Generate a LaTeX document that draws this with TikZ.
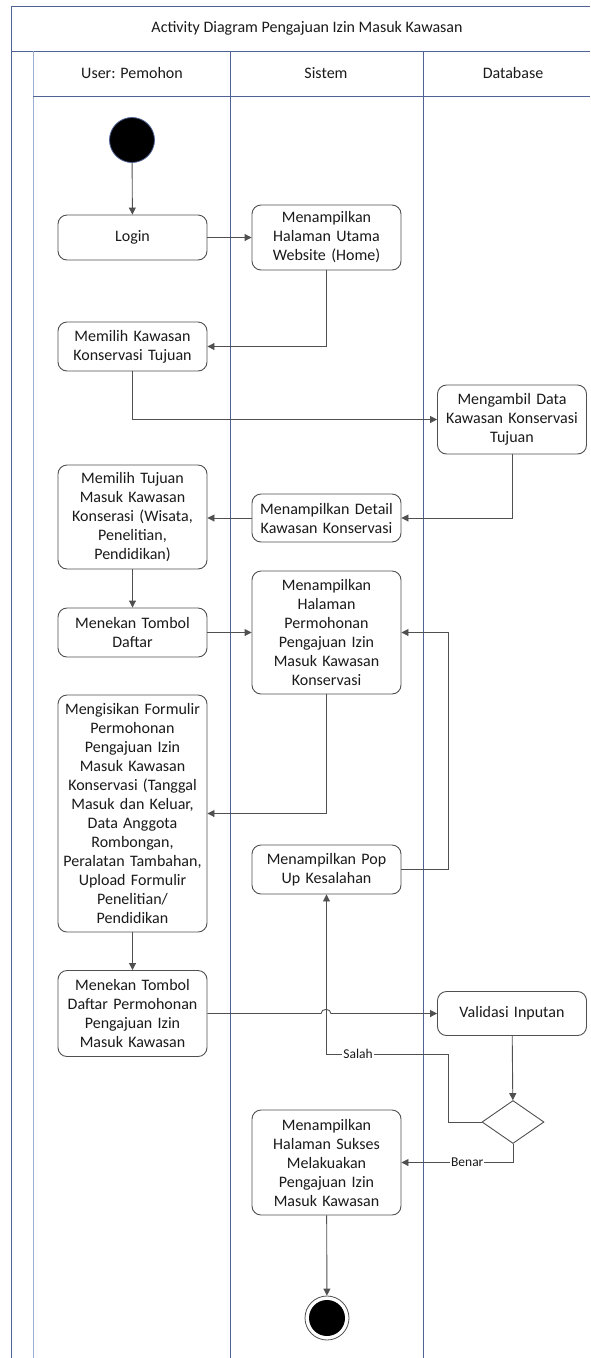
\documentclass[tikz,border=0pt]{standalone}
\usepackage{fontspec}
\setmainfont{Carlito}
\usepackage{xcolor}
\usetikzlibrary{arrows.meta,shapes.geometric}
\definecolor{LaneBlue}{HTML}{4F6296}
\definecolor{LaneLight}{HTML}{9DAED3}
\definecolor{LineGray}{HTML}{505050}
\definecolor{TextGray}{HTML}{1A1A1A}
\tikzstyle{actBlock}=[draw=LineGray,line width=0.9pt,rounded corners=9pt,fill=white,minimum width=149pt,text width=142pt,align=center,inner sep=2pt,font=\fontsize{16}{19}\selectfont,text=TextGray]
\tikzstyle{laneLine}=[draw=LaneBlue,line width=0.9pt]
\tikzstyle{laneText}=[font=\fontsize{16}{19}\selectfont,text=TextGray]
\tikzstyle{stateTransition}=[-{Triangle[length=7pt,width=7pt]},draw=LineGray,line width=0.9pt]
\tikzstyle{guardText}=[fill=white,inner sep=1pt,font=\fontsize{13.5}{15}\selectfont,text=TextGray]
\tikzstyle{startNode}=[circle,fill=black,draw=LaneBlue,line width=0.8pt,minimum size=45pt,inner sep=0pt]
\tikzstyle{endNode}=[circle,draw=LineGray,line width=0.8pt,minimum size=44pt,inner sep=0pt,path picture={\fill[black] (path picture bounding box.center) circle[radius=18pt];}]
\tikzstyle{decisionNode}=[diamond,draw=LineGray,line width=0.9pt,fill=white,minimum width=62pt,minimum height=43pt,inner sep=0pt]

\begin{document}
\begin{tikzpicture}[x=1pt,y=-1pt]
        \useasboundingbox (0,0) rectangle (590,1358);

        % Swimlane frame
        \draw[laneLine] (11,6) -- (590,6);
        \draw[laneLine] (11,6) -- (11,1358);
        \draw[laneLine] (11,51) -- (590,51);
        \draw[laneLine, draw=LaneLight] (33,51) -- (33,1358);
        \draw[laneLine] (230,51) -- (230,1358);
        \draw[laneLine] (423,51) -- (423,1358);
        \draw[laneLine] (33,96) -- (590,96);

        \node[laneText] (title) at (307, 28) {Activity Diagram Pengajuan Izin Masuk Kawasan};
        \node[laneText] (laneUser) at (132, 73) {User: Pemohon};
        \node[laneText] (laneSistem) at (326, 73) {Sistem};
        \node[laneText] (laneDatabase) at (513, 73) {Database};

        % User: Pemohon
        \node[startNode] (start) at (132, 140) {};
        \node[actBlock, minimum height=45pt] (login) at (132.5, 237.5) {Login};
        \node[actBlock, minimum height=49pt] (pilihKawasan) at (132.5, 346.5) {Memilih Kawasan\\Konservasi Tujuan};
        \node[actBlock, minimum height=104pt] (pilihTujuan) at (132.5, 517) {Memilih Tujuan\\Masuk Kawasan\\Konserasi (Wisata,\\Penelitian,\\Pendidikan)};
        \node[actBlock, minimum height=49pt] (tombolDaftar) at (132.5, 632.5) {Menekan Tombol\\Daftar};
        \node[actBlock, minimum height=237pt] (isiFormulir) at (132.5, 813.5) {Mengisikan Formulir\\Permohonan\\Pengajuan Izin\\Masuk Kawasan\\Konservasi (Tanggal\\Masuk dan Keluar,\\Data Anggota\\Rombongan,\\Peralatan Tambahan,\\Upload Formulir\\Penelitian/\\Pendidikan};
        \node[actBlock, minimum height=86pt] (tombolPermohonan) at (132.5, 1013.5) {Menekan Tombol\\Daftar Permohonan\\Pengajuan Izin\\Masuk Kawasan};

        % Sistem
        \node[actBlock, minimum height=65pt] (home) at (326.5, 237.5) {Menampilkan\\Halaman Utama\\Website (Home)};
        \node[actBlock, minimum height=48pt] (detail) at (326.5, 518) {Menampilkan Detail\\Kawasan Konservasi};
        \node[actBlock, minimum height=123pt] (halamanPermohonan) at (326.5, 632.5) {Menampilkan\\Halaman\\Permohonan\\Pengajuan Izin\\Masuk Kawasan\\Konservasi};
        \node[actBlock, minimum height=49pt] (popUp) at (326.5, 869.5) {Menampilkan Pop\\Up Kesalahan};
        \node[actBlock, minimum height=105pt] (sukses) at (326.5, 1162.5) {Menampilkan\\Halaman Sukses\\Melakuakan\\Pengajuan Izin\\Masuk Kawasan};
        \node[endNode] (finish) at (327, 1318) {};

        % Database
        \node[actBlock, minimum height=69pt] (ambilData) at (512, 419.5) {Mengambil Data\\Kawasan Konservasi\\Tujuan};
        \node[actBlock, minimum height=44pt] (validasi) at (512, 1013.5) {Validasi Inputan};
        \node[decisionNode] (keputusan) at (513, 1122) {};

        \coordinate (jumpL) at (321, 1013.5);
        \coordinate (jumpR) at (331, 1013.5);
        \coordinate (salahRiser) at (448, 1054);
        \coordinate (loopCorner) at (448, 632.5);

        \draw[stateTransition] (start) -- (login);
        \draw[stateTransition] (login) -- (home);
        \draw[stateTransition] (home.south) |- (pilihKawasan.east);
        \draw[stateTransition] (pilihKawasan.south) |- (ambilData.west);
        \draw[stateTransition] (ambilData.south) |- (detail.east);
        \draw[stateTransition] (detail.west) -- (detail.west -| pilihTujuan.east);
        \draw[stateTransition] (pilihTujuan) -- (tombolDaftar);
        \draw[stateTransition] (tombolDaftar) -- (halamanPermohonan);
        \draw[stateTransition] (halamanPermohonan.south) |- (isiFormulir.east);
        \draw[stateTransition] (isiFormulir) -- (tombolPermohonan);
        \draw[stateTransition] (tombolPermohonan.east) -- (jumpL) to[out=90,in=90,looseness=1.4] (jumpR) -- (validasi.west);
        \draw[stateTransition] (validasi) -- (keputusan);
        \draw[stateTransition] (keputusan.west) -| (salahRiser) -| node[guardText, pos=0.37] {Salah} (popUp.south);
        \draw[stateTransition] (popUp.east) -| (loopCorner) -- (halamanPermohonan.east);
        \draw[stateTransition] (keputusan.south) |- node[guardText, pos=0.705] {Benar} (sukses.east);
        \draw[stateTransition] (sukses) -- (finish);

    \end{tikzpicture}
\end{document}
